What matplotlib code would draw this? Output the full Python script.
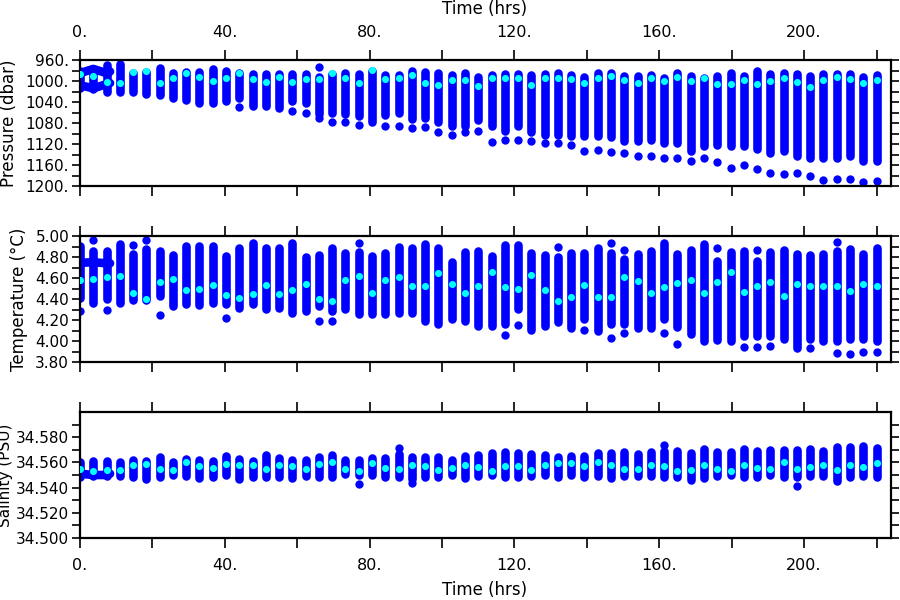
import numpy as np
import matplotlib
matplotlib.use("Agg")
import matplotlib.pyplot as plt

plt.rcParams['font.family'] = 'DejaVu Sans'

BLUE = '#0000ff'
CYAN = '#00ffff'

# profile times (hrs)
times = [0.0, 3.67, 7.33, 11.0, 14.67, 18.33, 22.0, 25.67, 29.33, 33.0,
         36.67, 40.33, 44.0, 47.67, 51.33, 55.0, 58.67, 62.33, 66.0, 69.67,
         73.33, 77.0, 80.67, 84.33, 88.0, 91.67, 95.33, 99.0, 102.67, 106.33,
         110.0, 113.67, 117.33, 121.0, 124.67, 128.33, 132.0, 135.67, 139.33, 143.0,
         146.67, 150.33, 154.0, 157.67, 161.33, 165.0, 168.67, 172.33, 176.0, 179.67,
         183.33, 187.0, 190.67, 194.33, 198.0, 201.67, 205.33, 209.0, 212.67, 216.33,
         220.0]
nan = np.nan

# Pressure (dbar): bar top, bar bottom, isolated shallow / deep points, mean
p_top = [980, 980, 970, 967, 984, 982, 975, 985, 982, 982,
         978, 980, 985, 987, 987, 987, 987, 987, 993, 987,
         985, 987, 980, 989, 989, 980, 982, 985, 989, 984,
         993, 989, 987, 987, 989, 987, 985, 989, 992, 985,
         985, 990, 990, 988, 994, 984, 990, 994, 991, 984,
         991, 980, 987, 985, 987, 990, 987, 987, 987, 993,
         989]
p_bot = [1013, 1016, 1021, 1020, 1020, 1024, 1027, 1032, 1037, 1041,
         1041, 1039, 1032, 1048, 1048, 1052, 1038, 1041, 1062, 1060,
         1062, 1067, 1078, 1064, 1060, 1073, 1070, 1079, 1086, 1086,
         1074, 1086, 1095, 1086, 1097, 1103, 1103, 1105, 1105, 1105,
         1106, 1114, 1114, 1113, 1118, 1119, 1133, 1124, 1121, 1124,
         1124, 1130, 1137, 1133, 1143, 1146, 1146, 1146, 1143, 1152,
         1152]
p_high = [nan] * 18 + [973] + [nan] * 42
p_low = [nan, nan, nan, nan, nan, nan, nan, nan, nan, nan,
         nan, nan, 1050, nan, nan, nan, 1057, 1060, 1070, 1078,
         1078, 1084, nan, 1086, 1085, 1090, 1087, 1098, 1102, 1098,
         1095, 1116, 1112, 1112, 1114, 1119, 1119, 1122, 1133, 1131,
         1135, 1138, 1143, 1143, 1147, 1146, 1152, 1147, 1155, 1165,
         1160, 1168, 1175, 1178, 1176, 1181, 1189, 1186, 1186, 1192,
         1191]
p_mean = [987, 990, 1001, 1004, 982, 980, 1003, 995, 984, 993,
          1000, 994, 985, 997, 1001, 993, 1001, 996, 996, 985,
          995, 1003, 979, 997, 995, 989, 1003, 1008, 998, 999,
          1009, 994, 994, 995, 1008, 995, 994, 996, 1003, 994,
          990, 998, 1003, 995, 1000, 993, 1000, 994, 1006, 1006,
          998, 1005, 1000, 994, 1001, 1011, 999, 992, 996, 1003,
          998]

# Temperature (deg C)
t_top = [4.905, 4.858, 4.858, 4.927, 4.826, 4.874, 4.858, 4.820, 4.905, 4.905,
         4.905, 4.810, 4.890, 4.937, 4.889, 4.889, 4.937, 4.800, 4.820, 4.889,
         4.842, 4.848, 4.810, 4.842, 4.896, 4.889, 4.927, 4.889, 4.757, 4.850,
         4.858, 4.810, 4.915, 4.915, 4.842, 4.820, 4.800, 4.842, 4.842, 4.883,
         4.842, 4.779, 4.826, 4.858, 4.937, 4.833, 4.864, 4.921, 4.763, 4.848,
         4.858, 4.763, 4.848, 4.864, 4.833, 4.817, 4.826, 4.858, 4.874, 4.833,
         4.889]
t_bot = [4.410, 4.365, 4.396, 4.365, 4.390, 4.390, 4.428, 4.333, 4.349, 4.343,
         4.365, 4.349, 4.318, 4.349, 4.302, 4.318, 4.270, 4.286, 4.333, 4.286,
         4.302, 4.254, 4.254, 4.254, 4.270, 4.270, 4.191, 4.160, 4.207, 4.191,
         4.144, 4.144, 4.160, 4.302, 4.106, 4.144, 4.180, 4.128, 4.207, 4.096,
         4.160, 4.160, 4.128, 4.128, 4.207, 4.137, 4.065, 4.000, 4.011, 4.000,
         4.049, 4.049, 4.049, 4.017, 3.938, 4.017, 4.000, 4.000, 4.017, 4.017,
         4.000]
t_high = [nan, 4.959, nan, nan, 4.912, 4.962, nan, nan, nan, nan,
          nan, nan, nan, nan, nan, nan, nan, nan, nan, nan,
          nan, 4.937, nan, nan, nan, nan, nan, nan, nan, nan,
          nan, nan, nan, nan, nan, nan, 4.896, nan, nan, nan,
          4.934, 4.864, nan, nan, nan, nan, nan, nan, 4.886, nan,
          nan, 4.864, nan, nan, nan, nan, nan, 4.946, nan, nan,
          nan]
t_low = [4.286, nan, 4.295, nan, nan, nan, 4.248, nan, nan, nan,
         nan, 4.216, nan, nan, nan, nan, nan, nan, 4.194, 4.194,
         nan, nan, nan, nan, nan, nan, nan, nan, nan, nan,
         nan, nan, 4.058, 4.153, nan, nan, nan, nan, 4.106, nan,
         4.033, 4.080, nan, nan, 4.080, 3.970, nan, nan, nan, nan,
         3.942, 3.942, 3.948, nan, nan, 3.932, nan, 3.885, 3.872, 3.891,
         3.891]
t_mean = [4.580, 4.592, 4.605, 4.618, 4.453, 4.400, 4.561, 4.592, 4.485, 4.494,
          4.532, 4.438, 4.406, 4.444, 4.529, 4.447, 4.485, 4.539, 4.400, 4.384,
          4.580, 4.618, 4.460, 4.580, 4.605, 4.526, 4.523, 4.643, 4.542, 4.453,
          4.523, 4.659, 4.510, 4.494, 4.624, 4.485, 4.384, 4.415, 4.529, 4.415,
          4.415, 4.611, 4.570, 4.453, 4.517, 4.548, 4.580, 4.460, 4.564, 4.656,
          4.469, 4.523, 4.564, 4.428, 4.539, 4.523, 4.523, 4.523, 4.479, 4.542,
          4.523]

# Salinity (PSU)
s_top = [34.5600, 34.5610, 34.5610, 34.5600, 34.5620, 34.5610, 34.5640, 34.5605, 34.5630, 34.5620,
         34.5610, 34.5647, 34.5628, 34.5615, 34.5657, 34.5636, 34.5623, 34.5623, 34.5644, 34.5657,
         34.5623, 34.5623, 34.5636, 34.5636, 34.5670, 34.5641, 34.5641, 34.5641, 34.5623, 34.5650,
         34.5655, 34.5671, 34.5684, 34.5676, 34.5663, 34.5657, 34.5644, 34.5650, 34.5650, 34.5671,
         34.5676, 34.5684, 34.5668, 34.5681, 34.5690, 34.5694, 34.5676, 34.5710, 34.5684, 34.5684,
         34.5710, 34.5694, 34.5702, 34.5702, 34.5702, 34.5710, 34.5689, 34.5721, 34.5721, 34.5729,
         34.5715]
s_bot = [34.5488, 34.5490, 34.5490, 34.5490, 34.5483, 34.5467, 34.5483, 34.5502, 34.5494, 34.5475,
         34.5488, 34.5502, 34.5467, 34.5483, 34.5488, 34.5488, 34.5475, 34.5494, 34.5483, 34.5488,
         34.5510, 34.5502, 34.5502, 34.5483, 34.5488, 34.5467, 34.5483, 34.5483, 34.5502, 34.5475,
         34.5494, 34.5502, 34.5488, 34.5488, 34.5494, 34.5502, 34.5483, 34.5502, 34.5483, 34.5494,
         34.5475, 34.5494, 34.5494, 34.5494, 34.5488, 34.5488, 34.5462, 34.5475, 34.5494, 34.5502,
         34.5483, 34.5488, 34.5502, 34.5483, 34.5488, 34.5494, 34.5494, 34.5454, 34.5488, 34.5494,
         34.5483]
s_high = [nan] * 24 + [34.5715] + [nan] * 19 + [34.5742] + [nan] * 16
s_low = [nan] * 21 + [34.5425] + [nan] * 3 + [34.5436] + [nan] * 28 + [34.5412] + [nan] * 6
s_mean = [34.5550, 34.5530, 34.5536, 34.5536, 34.5580, 34.5589, 34.5550, 34.5536, 34.5602, 34.5568,
          34.5557, 34.5589, 34.5583, 34.5576, 34.5550, 34.5580, 34.5568, 34.5550, 34.5589, 34.5602,
          34.5550, 34.5531, 34.5594, 34.5557, 34.5550, 34.5576, 34.5568, 34.5536, 34.5557, 34.5583,
          34.5562, 34.5531, 34.5568, 34.5568, 34.5541, 34.5583, 34.5597, 34.5594, 34.5568, 34.5607,
          34.5583, 34.5550, 34.5544, 34.5576, 34.5568, 34.5531, 34.5541, 34.5576, 34.5547, 34.5528,
          34.5583, 34.5557, 34.5550, 34.5607, 34.5550, 34.5562, 34.5576, 34.5541, 34.5583, 34.5562,
          34.5597]

# high-rate samples during the first hours
moor_times = [0.0, 3.67, 7.33, 8.3]
moor_p_upper = [985, 977, 985, 982]
moor_p_lower = [1008, 1014, 1006, 1004]
moor_t = [4.745, 4.750, 4.740, 4.740]
moor_s = [34.551, 34.550, 34.550, 34.551]

xticks = list(range(0, 221, 20))
xticklabels = [f"{v}." if v % 40 == 0 else "" for v in xticks]

fig = plt.figure(figsize=(9, 6), dpi=100)
W, H = 900.0, 600.0
left, right = 80, 891
panels = [(60, 186), (236, 362), (412, 538)]
axes = []
for top, bot in panels:
    ax = fig.add_axes([left / W, 1 - bot / H, (right - left) / W, (bot - top) / H])
    axes.append(ax)

LW = 6.2   # bar width (pt) ~ dot diameter
DOT = 36
CDOT = 26


def draw_profiles(ax, top, bot, high, low, mean, moor_series):
    lc = ax.vlines(times, top, bot, colors=BLUE, linewidth=LW, zorder=2)
    lc.set_capstyle('round')
    ax.scatter(times, high, s=DOT, color=BLUE, linewidths=0, zorder=2)
    ax.scatter(times, low, s=DOT, color=BLUE, linewidths=0, zorder=2)
    for vals in moor_series:
        ax.plot(moor_times, vals, color=BLUE, linewidth=LW,
                solid_capstyle='round', zorder=2)
    ax.scatter(times, mean, s=CDOT, color=CYAN, linewidths=0, zorder=3)


draw_profiles(axes[0], p_top, p_bot, p_high, p_low, p_mean, [moor_p_upper, moor_p_lower])
draw_profiles(axes[1], t_top, t_bot, t_high, t_low, t_mean, [moor_t])
draw_profiles(axes[2], s_top, s_bot, s_high, s_low, s_mean, [moor_s])

# y axes
axes[0].set_ylim(1200, 960)
pt = list(range(960, 1201, 20))
axes[0].set_yticks(pt)
axes[0].set_yticklabels([f"{v}." if (v - 960) % 40 == 0 else "" for v in pt])

tt = [3.8 + 0.1 * i for i in range(13)]
axes[1].set_ylim(3.8, 5.0)
axes[1].set_yticks(tt)
axes[1].set_yticklabels([f"{v:.2f}" if i % 2 == 0 else "" for i, v in enumerate(tt)])

st = [34.50 + 0.01 * i for i in range(10)]
axes[2].set_ylim(34.50, 34.60)
axes[2].set_yticks(st)
axes[2].set_yticklabels([f"{v:.3f}" if i % 2 == 0 else "" for i, v in enumerate(st)])

for i, ax in enumerate(axes):
    ax.set_xlim(0, 224)
    ax.set_xticks(xticks)
    ax.set_xticklabels(xticklabels)
    for sp in ax.spines.values():
        sp.set_linewidth(1.6)
    ax.tick_params(axis='x', direction='out', length=7.2, width=1.2,
                   top=True, bottom=True, labelsize=11.5, pad=7,
                   labeltop=(i == 0), labelbottom=(i == 2))
    ax.tick_params(axis='y', direction='out', length=5.8, width=1.2,
                   left=True, right=True, labelsize=11, pad=2,
                   labelleft=True, labelright=False)

fig.text(485 / W, 1 - 9 / H, 'Time (hrs)', ha='center', va='center', fontsize=12)
fig.text(485 / W, 1 - 590 / H, 'Time (hrs)', ha='center', va='center', fontsize=12)
fig.text(9 / W, 1 - 123 / H, 'Pressure (dbar)', rotation=90, ha='center', va='center', fontsize=12)
fig.text(19 / W, 1 - 299 / H, 'Temperature (°C)', rotation=90, ha='center', va='center', fontsize=12)
fig.text(6 / W, 1 - 475 / H, 'Salinity (PSU)', rotation=90, ha='center', va='center', fontsize=11)

fig.savefig('out.png', dpi=100)
